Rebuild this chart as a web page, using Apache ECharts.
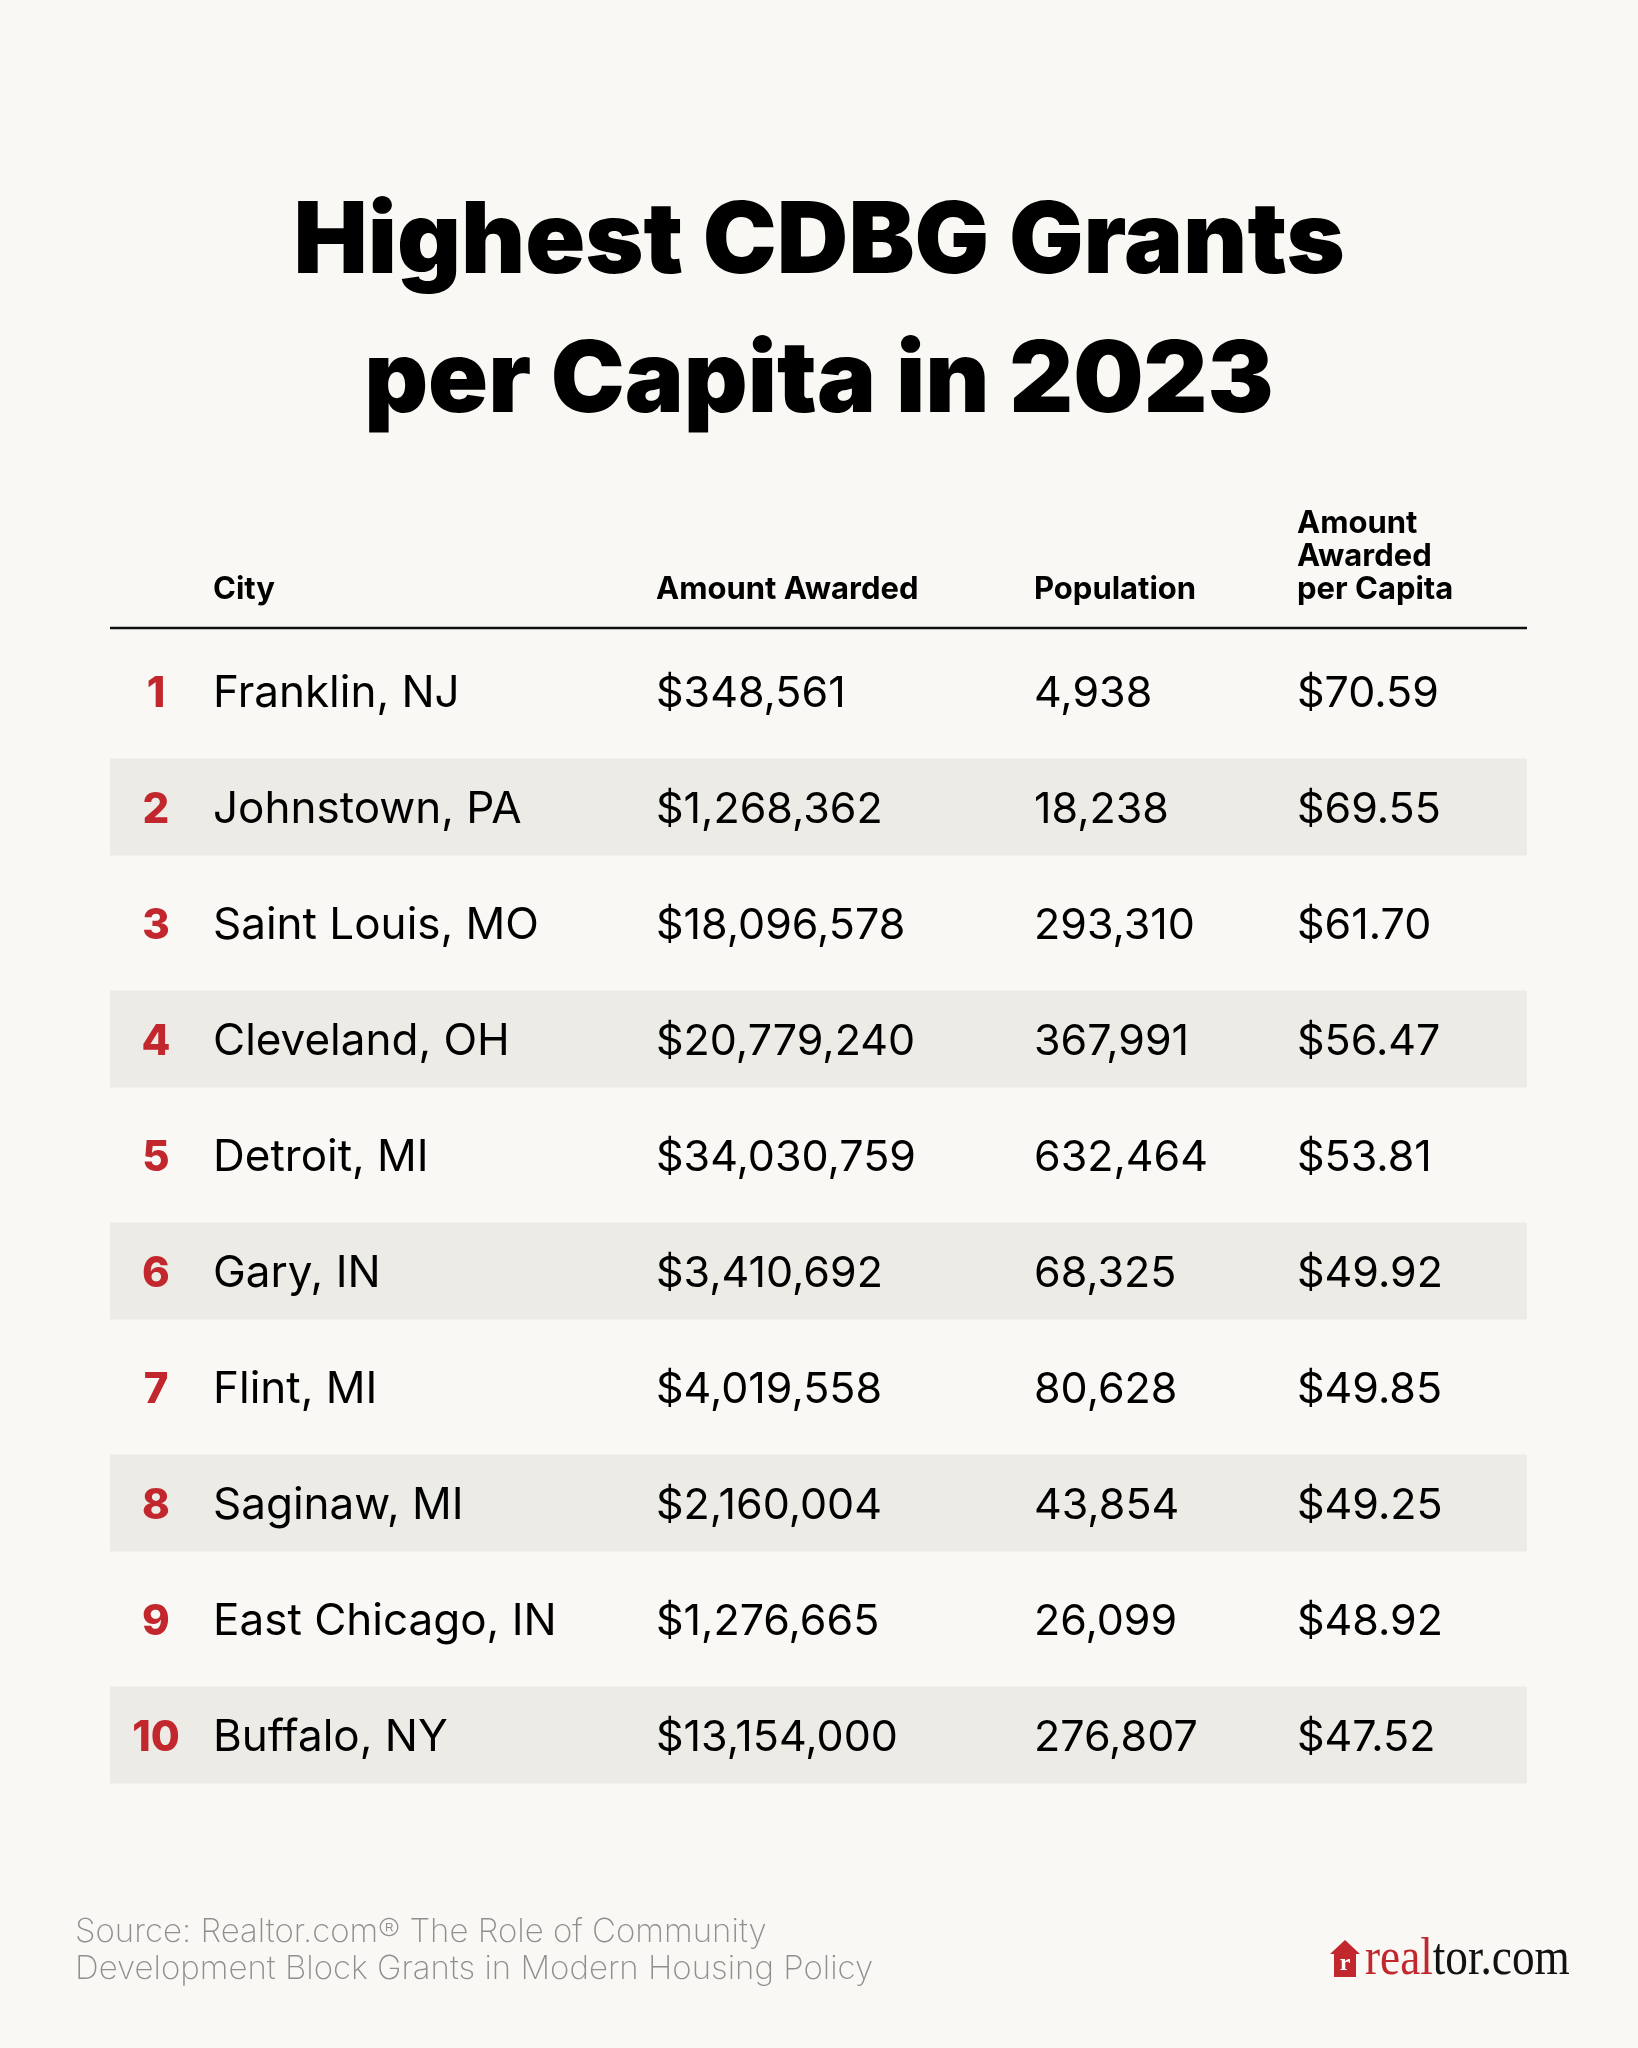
<!DOCTYPE html>
<html>
<head>
<meta charset="utf-8">
<script src="https://cdn.jsdelivr.net/npm/echarts@6/dist/echarts.min.js"></script>
<style>
  html, body { margin: 0; padding: 0; background: #f9f8f4; }
  #main { width: 1638px; height: 2048px; }
</style>
</head>
<body>
<div id="main"></div>
<script>
// table data
var ranks = [1, 2, 3, 4, 5, 6, 7, 8, 9, 10];
var cities = ['Franklin, NJ', 'Johnstown, PA', 'Saint Louis, MO', 'Cleveland, OH', 'Detroit, MI',
	'Gary, IN', 'Flint, MI', 'Saginaw, MI', 'East Chicago, IN', 'Buffalo, NY'];
var amounts = [348561, 1268362, 18096578, 20779240, 34030759, 3410692, 4019558, 2160004, 1276665, 13154000];
var populations = [4938, 18238, 293310, 367991, 632464, 68325, 80628, 43854, 26099, 276807];
var perCapita = [70.59, 69.55, 61.70, 56.47, 53.81, 49.92, 49.85, 49.25, 48.92, 47.52];
var headers = ['City', 'Amount Awarded', 'Population', 'Amount\nAwarded\nper Capita'];

// column x positions (px)
var colX = [156, 213, 656, 1034, 1297];
var FONT = 'Inter, "Noto Sans", sans-serif';
var SERIF = '"Liberation Serif", "DejaVu Serif", serif';

var myChart = echarts.init(document.getElementById('main'));

var rows = ranks.map(function (r, i) { return [0, i]; });

function renderRow(params, api) {
	var i = api.value(1);
	var cs = params.coordSys;
	var cy = api.coord([0, i])[1];
	var bandH = api.size([0, 1])[1] * 0.836;
	var children = [];
	if (i % 2 === 1) {
		children.push({
			type: 'rect',
			shape: { x: cs.x, y: cy - bandH / 2, width: cs.width, height: bandH },
			style: { fill: '#edebe6' }
		});
	}
	var cells = [
		cities[i],
		'$' + amounts[i].toLocaleString('en-US'),
		populations[i].toLocaleString('en-US'),
		'$' + perCapita[i].toFixed(2)
	];
	children.push({
		type: 'text',
		style: {
			text: String(ranks[i]), x: colX[0], y: cy + 3,
			align: 'center', verticalAlign: 'middle',
			fill: '#c1272d', fontSize: 42, fontWeight: 800, fontFamily: FONT
		}
	});
	cells.forEach(function (t, k) {
		children.push({
			type: 'text',
			style: {
				text: t, x: colX[k + 1], y: cy + 3,
				align: 'left', verticalAlign: 'middle',
				fill: '#000', fontSize: k === 0 ? 44 : 43, fontWeight: 400, fontFamily: FONT
			}
		});
	});
	return { type: 'group', children: children };
}

var headerGraphics = headers.map(function (h, k) {
	return {
		type: 'text',
		left: colX[k + 1],
		bottom: 2048 - 606,
		style: {
			text: h, fill: '#000', fontSize: 31, fontWeight: 700,
			fontFamily: FONT, lineHeight: 33, align: 'left'
		}
	};
});

var option = {
	backgroundColor: '#f9f8f4',
	animation: false,
	title: {
		text: 'Highest CDBG Grants\nper Capita in 2023',
		left: 'center',
		top: 169,
		textStyle: {
			fontSize: 99, fontWeight: 900, fontFamily: FONT,
			lineHeight: 139, color: '#000'
		}
	},
	grid: { left: 110, right: 111, top: 633, bottom: 255 },
	xAxis: { type: 'value', min: 0, max: 1, show: false },
	yAxis: { type: 'category', data: cities, inverse: true, show: false },
	series: [{
		type: 'custom',
		renderItem: renderRow,
		data: rows,
		encode: { x: 0, y: 1 }
	}],
	graphic: headerGraphics.concat([
		{
			type: 'line',
			shape: { x1: 110, y1: 628, x2: 1527, y2: 628 },
			style: { stroke: '#111', lineWidth: 2.5 }
		},
		{
			type: 'text',
			left: 75,
			top: 1914,
			style: {
				text: 'Source: Realtor.com\u00ae The Role of Community\nDevelopment Block Grants in Modern Housing Policy',
				fill: '#8f8f8f', fontSize: 33, fontWeight: 200, fontFamily: FONT, lineHeight: 37
			}
		},
		{
			type: 'group',
			left: 1330,
			top: 1934,
			children: [
				{
					type: 'polygon',
					shape: { points: [[0, 14], [15, 0], [30, 14], [26, 14], [26, 37], [4, 37], [4, 14]] },
					style: { fill: '#c1272d' }
				},
				{
					type: 'text',
					style: {
						text: 'r', x: 15, y: 36, align: 'center', verticalAlign: 'bottom',
						fill: '#fff', fontSize: 24, fontWeight: 700, fontFamily: SERIF
					}
				},
				{
					type: 'group',
					x: 35,
					scaleX: 0.87,
					children: [{
						type: 'text',
						style: {
							text: '{a|real}{b|tor.com}', x: 0, y: 46, verticalAlign: 'bottom',
							rich: {
								a: { fill: '#c1272d', fontSize: 52, fontFamily: SERIF },
								b: { fill: '#111', fontSize: 52, fontFamily: SERIF }
							}
						}
					}]
				}
			]
		}
	])
};

myChart.setOption(option);
</script>
</body>
</html>
